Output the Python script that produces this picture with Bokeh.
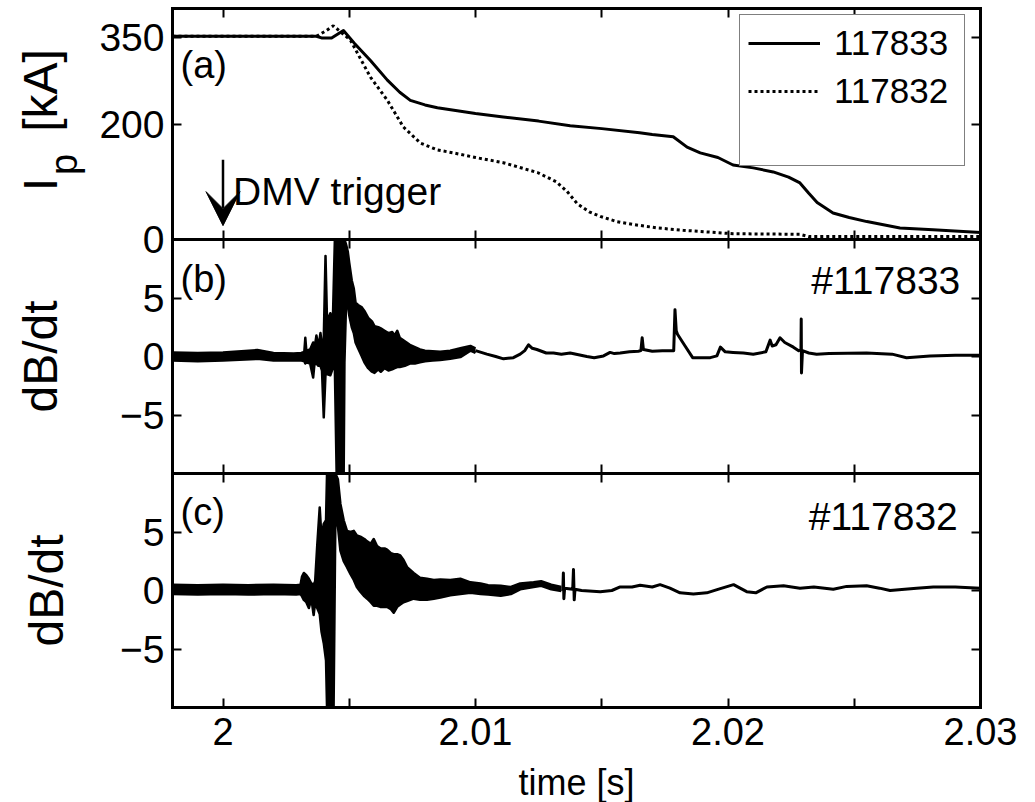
from bokeh.plotting import figure
from bokeh.models import (Range1d, LinearAxis, FixedTicker, Label, Arrow, VeeHead,
                          Legend, LegendItem)
from bokeh.embed import file_html
from bokeh.resources import INLINE

FONT = "Liberation Sans"

# ---------------- axes ----------------
X_LIM = (1.998, 2.03)
X_MAJOR = [2.0, 2.01, 2.02, 2.03]
X_MINOR = [2.005, 2.015, 2.025]
X_LABELS = {2.0: "2", 2.01: "2.01", 2.02: "2.02", 2.03: "2.03"}
IP_LIM = (0, 400)
IP_TICKS = [0, 200, 350]
DB_LIM = (-10, 10)
DB_TICKS = [-5, 0, 5]

# ---------------- (a) plasma current [kA] ----------------
T_IP_833 = [1.998, 2.0037, 2.0039, 2.0043, 2.00477, 2.0052, 2.00584, 2.00651,
            2.0070, 2.00742, 2.0080, 2.00849, 2.0100, 2.0111, 2.0125, 2.01375,
            2.0150, 2.0165, 2.0170, 2.01783, 2.01838, 2.0189, 2.0196, 2.0202,
            2.0210, 2.02179, 2.0224, 2.02285, 2.0232, 2.02353, 2.02416, 2.0248,
            2.0255, 2.02681, 2.02812, 2.0300]
IP_833 = [352, 352, 349, 349, 362, 340, 310, 276,
          255, 241, 233, 228, 218, 212, 205, 197,
          192, 185, 182, 178, 160, 150, 142, 129,
          124, 117, 108, 98, 80, 64, 46, 38,
          31, 20, 17, 12]

T_IP_832 = [1.998, 2.0037, 2.0041, 2.00437, 2.0047, 2.00505, 2.00584, 2.00651,
            2.00714, 2.00782, 2.0085, 2.00912, 2.0100, 2.0111, 2.01245, 2.0132,
            2.01363, 2.01403, 2.0145, 2.01494, 2.0156, 2.01625, 2.0172, 2.01822,
            2.0202, 2.02285, 2.0232, 2.0300]
IP_832 = [352, 352, 362, 370, 358, 345, 281, 241,
          195, 167, 155, 150, 142, 133, 116, 100,
          83, 62, 48, 40, 31, 26, 20, 16,
          10, 9, 5, 5]

# ---------------- (b) dB/dt #117833: envelope of the fast burst ----------------
TB_ENV = [1.998, 1.999, 2.000, 2.00136, 2.002, 2.0028, 2.0031, 2.00322,
          2.00326, 2.0033, 2.00345, 2.00357, 2.00362, 2.0037, 2.00378, 2.00386,
          2.00392, 2.00399, 2.00406, 2.00412, 2.00425, 2.00435, 2.00443, 2.0045,
          2.00478, 2.00481, 2.00487, 2.00494, 2.0050, 2.0051, 2.00518, 2.00525,
          2.00535, 2.0055, 2.0056, 2.00575, 2.0059, 2.0060, 2.00615, 2.00625,
          2.0064, 2.00655, 2.0067, 2.0068, 2.0069, 2.0070, 2.0072, 2.0074,
          2.0076, 2.0078, 2.0080, 2.0083, 2.0086, 2.0090, 2.0094, 2.0098,
          2.0100]
HI_B = [0.35, 0.30, 0.35, 0.55, 0.30, 0.25, 0.30, 0.40,
        1.60, 0.50, 0.60, 1.20, 0.60, 1.80, 0.80, 2.00,
        1.00, 1.50, 8.60, 3.00, 3.70, 3.00, 10.0, 10.0,
        10.0, 10.0, 9.6, 9.0, 8.0, 6.5, 5.8, 4.6,
        4.4, 4.2, 3.9, 3.3, 3.0, 2.6, 2.5, 2.4,
        2.2, 2.0, 2.1, 1.8, 2.2, 1.6, 1.3, 1.0,
        0.8, 0.6, 0.5, 0.45, 0.4, 0.5, 0.7, 0.9,
        0.7]
LO_B = [-0.35, -0.40, -0.35, -0.20, -0.35, -0.35, -0.35, -0.40,
        -0.60, -0.50, -0.60, -1.80, -0.70, -0.60, -0.80, -0.80,
        -1.20, -5.20, -1.50, -1.50, -1.60, -1.00, -1.00, -10.0,
        -10.0, -0.5, 4.2, 4.5, 3.5, 2.5, 2.0, 1.2,
        0.7, 0.0, -0.5, -1.0, -1.3, -1.4, -1.1, -1.3,
        -1.0, -1.2, -1.1, -1.0, -0.9, -0.9, -0.8, -0.6,
        -0.6, -0.5, -0.4, -0.35, -0.3, -0.2, -0.05, 0.5,
        0.3]
# (b) quiet tail
TB_Q = [2.0100, 2.01045, 2.0108, 2.01111, 2.0115, 2.01177, 2.01195, 2.0121,
        2.01225, 2.01243, 2.0128, 2.01309, 2.0134, 2.01375, 2.01441, 2.0147,
        2.01507, 2.01533, 2.0155, 2.01573, 2.0161, 2.01645, 2.01655, 2.0166,
        2.01665, 2.0170, 2.0174, 2.01785, 2.0179, 2.01795, 2.0180, 2.0183,
        2.0186, 2.0190, 2.0193, 2.01956, 2.0197, 2.01989, 2.0202, 2.02061,
        2.0210, 2.0215, 2.02167, 2.02175, 2.0219, 2.02206, 2.02225, 2.02259,
        2.0228, 2.02289, 2.0229, 2.02291, 2.02295, 2.0232, 2.02351, 2.0240,
        2.02549, 2.0265, 2.02707, 2.0280, 2.0290, 2.0300]
VB_Q = [0.5, 0.2, 0.0, -0.2, -0.1, 0.2, 0.5, 1.0,
        0.7, 0.6, 0.3, 0.3, 0.2, 0.3, 0.0, -0.1,
        0.05, 0.35, 0.25, 0.3, 0.4, 0.45, 0.5, 1.6,
        0.6, 0.45, 0.5, 0.5, 4.0, 2.2, 1.9, 0.9,
        -0.1, -0.1, -0.1, 0.05, 0.8, 0.4, 0.35, 0.3,
        0.2, 0.4, 1.4, 0.9, 1.0, 1.6, 1.2, 0.8,
        0.5, 0.6, 3.2, -1.4, 0.5, 0.3, 0.2, 0.25,
        0.3, 0.2, -0.1, 0.05, 0.1, 0.1]

# ---------------- (c) dB/dt #117832 ----------------
TC_ENV = [1.998, 1.999, 2.000, 2.001, 2.002, 2.0029, 2.00307, 2.00313,
          2.0032, 2.0033, 2.0034, 2.0035, 2.00359, 2.00365, 2.00373, 2.00383,
          2.0039, 2.00399, 2.00408, 2.00412, 2.00438, 2.00445, 2.00455, 2.00465,
          2.00478, 2.00491, 2.00505, 2.00518, 2.0053, 2.00544, 2.0056, 2.00571,
          2.00585, 2.00597, 2.0061, 2.00623, 2.0064, 2.0065, 2.00665, 2.00676,
          2.0069, 2.00702, 2.00715, 2.00729, 2.00755, 2.0078, 2.00808, 2.00835,
          2.00861, 2.0090, 2.0094, 2.0098, 2.0102, 2.0105, 2.0110, 2.0114,
          2.01177, 2.0123, 2.0126, 2.0130, 2.0134]
HI_C = [0.50, 0.45, 0.50, 0.45, 0.50, 0.45, 0.50, 1.20,
        1.50, 1.30, 1.00, 0.60, 0.50, 0.80, 3.80, 7.10,
        4.50, 5.70, 6.00, 10.0, 10.0, 10.0, 9.5, 7.4,
        6.0, 5.1, 5.0, 5.1, 4.7, 4.6, 4.4, 4.2,
        4.0, 4.4, 3.8, 3.6, 3.6, 3.5, 3.2, 3.1,
        3.1, 3.0, 2.6, 2.0, 1.5, 1.1, 1.0, 0.9,
        0.95, 0.9, 1.0, 0.7, 0.6, 0.45, 0.40, 0.30,
        0.60, 0.70, 0.80, 0.50, 0.30]
LO_C = [-0.30, -0.35, -0.30, -0.35, -0.30, -0.35, -0.30, -0.50,
        -0.80, -1.00, -1.50, -0.70, -2.10, -1.00, -1.50, -2.00,
        -3.50, -4.50, -6.00, -10.0, -10.0, 6.0, 5.5, 3.4,
        2.5, 2.0, 1.4, 0.9, 0.3, -0.1, -0.5, -0.7,
        -1.0, -1.3, -1.3, -1.4, -1.4, -1.4, -1.6, -1.9,
        -1.4, -1.2, -1.0, -0.9, -0.7, -0.8, -0.8, -0.7,
        -0.6, -0.4, -0.3, -0.2, -0.3, -0.35, -0.45, -0.30,
        0.10, 0.30, 0.40, 0.10, -0.05]
TC_Q = [2.0134, 2.01346, 2.01348, 2.0135, 2.01353, 2.01385, 2.01388, 2.01391,
        2.01394, 2.0142, 2.01494, 2.0154, 2.01573, 2.0162, 2.01652, 2.0170,
        2.01731, 2.0177, 2.0181, 2.01863, 2.01916, 2.0196, 2.02022, 2.02074,
        2.0211, 2.02154, 2.0222, 2.02285, 2.0234, 2.02417, 2.0247, 2.02549,
        2.0260, 2.02642, 2.0270, 2.02747, 2.02813, 2.0290, 2.0300]
VC_Q = [0.1, 0.1, 1.5, -0.7, 0.2, 0.1, 1.8, -0.8,
        0.1, 0.0, -0.1, 0.0, 0.3, 0.3, 0.45, 0.3,
        0.5, 0.2, -0.2, -0.3, -0.2, 0.1, 0.5, -0.1,
        -0.2, 0.3, 0.4, 0.2, 0.3, 0.1, 0.35, 0.4,
        0.2, 0.0, 0.1, 0.2, 0.3, 0.3, 0.2]

LEGEND_NAMES = ["117833", "117832"]

# ---------------- layout geometry (pixels) ----------------
# The plotting frame covers the whole canvas; the three panels are pixel bands
W, H = 1035, 802
PANEL_LEFT, PANEL_RIGHT = 172, 980
BANDS = {"a": (8, 239), "b": (239, 473), "c": (473, 707)}


def x_canvas_range():
    upp = (X_LIM[1] - X_LIM[0]) / (PANEL_RIGHT - PANEL_LEFT)
    return Range1d(X_LIM[0] - PANEL_LEFT * upp, X_LIM[1] + (W - PANEL_RIGHT) * upp)


def band_range(lim, band):
    """Range over the full canvas height such that `lim` fills the pixel band."""
    lo, hi = lim
    top, bot = band
    upp = (hi - lo) / (bot - top)
    return Range1d(lo - (H - bot) * upp, hi + top * upp)


p = figure(width=W, height=H, x_range=x_canvas_range(),
           y_range=band_range(IP_LIM, BANDS["a"]),
           output_backend="svg", toolbar_location=None,
           x_axis_location=None, y_axis_location=None,
           min_border_left=0, min_border_right=0,
           min_border_top=0, min_border_bottom=0)
p.extra_y_ranges = {"b": band_range(DB_LIM, BANDS["b"]),
                    "c": band_range(DB_LIM, BANDS["c"])}
p.xgrid.visible = False
p.ygrid.visible = False
p.outline_line_color = None
p.background_fill_color = "white"
p.border_fill_color = "white"


def add_axis(side, ticker, rng="default", fixed=None, bounds="auto",
             labels=False, size="38px", tick_out=0):
    ax = LinearAxis(ticker=ticker, y_range_name=rng, fixed_location=fixed, bounds=bounds)
    ax.axis_line_width = 3
    ax.axis_line_color = "black"
    ax.axis_line_cap = "square"
    ax.major_tick_in = 9
    ax.major_tick_out = tick_out
    ax.minor_tick_in = 9
    ax.minor_tick_out = tick_out
    ax.major_tick_line_width = 2
    ax.minor_tick_line_width = 2
    ax.major_tick_line_color = "black"
    ax.minor_tick_line_color = "black"
    ax.major_label_text_font = FONT
    ax.major_label_text_font_size = size
    ax.major_label_text_color = "black"
    ax.axis_label_text_font = FONT
    ax.axis_label_text_font_style = "normal"
    ax.axis_label_text_color = "black"
    if not labels:
        ax.major_label_standoff = 0
    p.add_layout(ax, side)
    return ax


def ticks_only(ticks):
    return FixedTicker(ticks=[], minor_ticks=list(ticks))


X_ALL = X_MAJOR + X_MINOR
# frame top / panel boundaries
add_axis("above", ticks_only(X_ALL), "default", fixed=IP_LIM[1], bounds=X_LIM)
add_axis("below", ticks_only(X_ALL), "default", fixed=IP_LIM[0], bounds=X_LIM, tick_out=9)
add_axis("below", ticks_only(X_ALL), "b", fixed=DB_LIM[0], bounds=X_LIM, tick_out=9)
# bottom axis with labels
ax_x = add_axis("below", FixedTicker(ticks=X_MAJOR, minor_ticks=X_MINOR), "c",
                fixed=DB_LIM[0], bounds=X_LIM, labels=True, size="38px")
ax_x.major_label_overrides = X_LABELS
ax_x.major_label_standoff = 10
ax_x.axis_label = "time [s]"
ax_x.axis_label_text_font_size = "36px"
ax_x.axis_label_standoff = 14

# left axes with labels
ax_la = add_axis("left", FixedTicker(ticks=IP_TICKS), "default", fixed=X_LIM[0],
                 bounds=IP_LIM, labels=True, size="39px")
ax_la.major_label_standoff = 8
for rng, standoff in (("b", 50), ("c", 44)):
    ax = add_axis("left", FixedTicker(ticks=DB_TICKS), rng, fixed=X_LIM[0],
                  bounds=DB_LIM, labels=True, size="39px")
    ax.major_label_standoff = 8
    ax.axis_label = "dB/dt"
    ax.axis_label_text_font_size = "48px"
    ax.axis_label_standoff = standoff

# right axes (ticks only)
add_axis("right", ticks_only(IP_TICKS), "default", fixed=X_LIM[1], bounds=IP_LIM)
add_axis("right", ticks_only(DB_TICKS), "b", fixed=X_LIM[1], bounds=DB_LIM)
add_axis("right", ticks_only(DB_TICKS), "c", fixed=X_LIM[1], bounds=DB_LIM)

# y label of panel (a): I_p [kA] built from three label-only axes
for txt, bnds, size, standoff in (("I", (85, 105), "48px", 106),
                                  ("p", (120, 140), "38px", 88),
                                  ("[kA]", (244, 272), "48px", 106)):
    ax = add_axis("left", FixedTicker(ticks=[], minor_ticks=[]), "default",
                  fixed=X_LIM[0], bounds=bnds)
    ax.axis_line_color = None
    ax.axis_label = txt
    ax.axis_label_text_font_size = size
    ax.axis_label_standoff = standoff


def add_text(text, x, y, size, rng="default", align="left", baseline="middle"):
    p.add_layout(Label(x=x, y=y, y_range_name=rng, text=text,
                       text_font=FONT, text_font_size=size, text_color="black",
                       text_align=align, text_baseline=baseline))


# ---------------- panel (a) ----------------
r832 = p.line(T_IP_832, IP_832, line_color="black", line_width=3, line_dash="3 3")
r833 = p.line(T_IP_833, IP_833, line_color="black", line_width=3, line_join="round")
r_blank = p.line(T_IP_833, IP_833, line_alpha=0)
legend = Legend(items=[LegendItem(label=LEGEND_NAMES[0], renderers=[r833]),
                       LegendItem(label=LEGEND_NAMES[1], renderers=[r832]),
                       LegendItem(label=" ", renderers=[r_blank])],
                location=(739, H - 166), margin=0, padding=8, spacing=8,
                label_height=38, label_width=122, glyph_width=72, glyph_height=20,
                label_standoff=14, border_line_color="black", border_line_width=1,
                background_fill_color="white", background_fill_alpha=1,
                label_text_font=FONT, label_text_font_size="35px",
                label_text_color="black")
p.add_layout(legend)
p.add_layout(Arrow(end=VeeHead(size=34, fill_color="black", line_color="black"),
                   x_start=2.0, y_start=138, x_end=2.0, y_end=24,
                   line_color="black", line_width=2.5))
add_text("DMV trigger", 2.0004, 83, "39px", baseline="alphabetic")
add_text("(a)", 1.99832, 302, "38px")

# ---------------- panel (b) ----------------
p.varea(x=TB_ENV, y1=LO_B, y2=HI_B, fill_color="black", y_range_name="b")
p.line(TB_ENV, HI_B, line_color="black", line_width=2.5, line_join="round", y_range_name="b")
p.line(TB_ENV, LO_B, line_color="black", line_width=2.5, line_join="round", y_range_name="b")
p.line(TB_Q, VB_Q, line_color="black", line_width=3, line_join="round", y_range_name="b")
add_text("(b)", 1.99832, 6.6, "38px", rng="b")
add_text("#117833", 2.0292, 6.5, "39px", rng="b", align="right")

# ---------------- panel (c) ----------------
p.varea(x=TC_ENV, y1=LO_C, y2=HI_C, fill_color="black", y_range_name="c")
p.line(TC_ENV, HI_C, line_color="black", line_width=2.5, line_join="round", y_range_name="c")
p.line(TC_ENV, LO_C, line_color="black", line_width=2.5, line_join="round", y_range_name="c")
p.line(TC_Q, VC_Q, line_color="black", line_width=3, line_join="round", y_range_name="c")
add_text("(c)", 1.99832, 6.7, "38px", rng="c")
add_text("#117832", 2.0291, 6.3, "39px", rng="c", align="right")

open("out.html", "w").write(file_html(p, INLINE))
